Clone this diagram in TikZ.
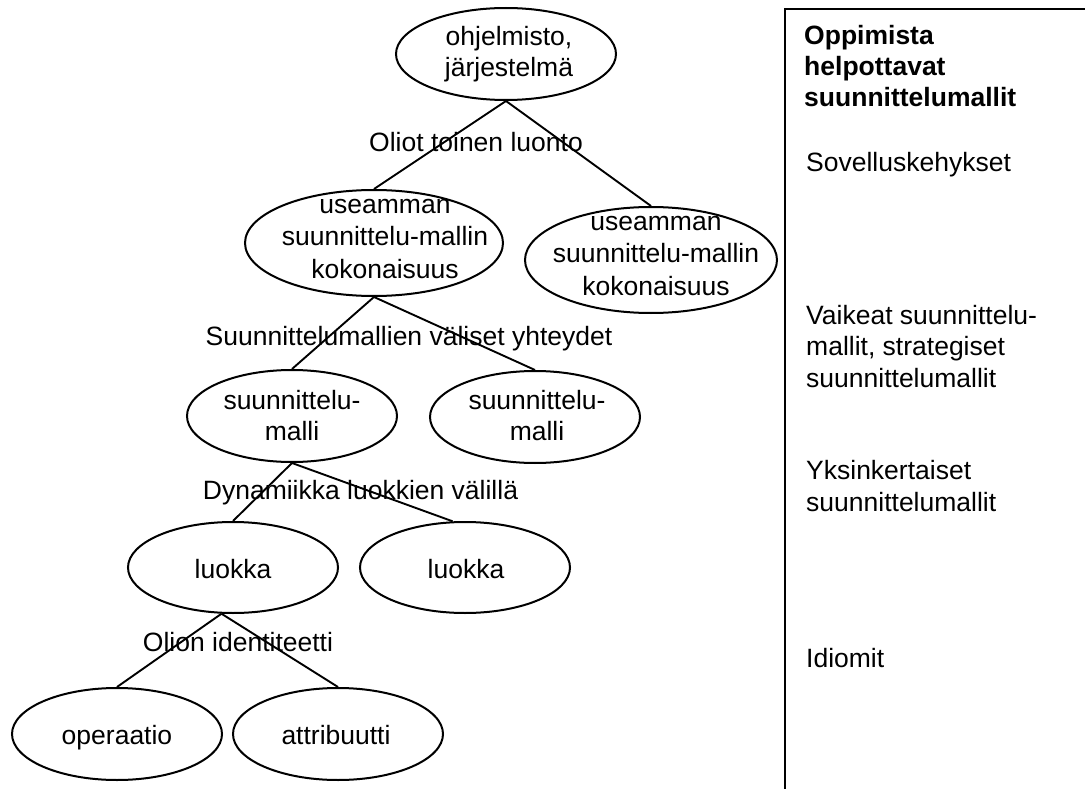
\documentclass[tikz,border=0pt]{standalone}
\usepackage{fontspec}
\setmainfont{Liberation Sans}
\usetikzlibrary{shapes.geometric}
\begin{document}
\begin{tikzpicture}[x=1pt,y=-1pt,
  oval/.style={draw, ellipse, line width=2pt, inner sep=0pt,
               minimum width=210pt, minimum height=92pt},
  bigoval/.style={oval, minimum width=256pt, minimum height=106pt},
  txt/.style={font=\fontsize{26.5}{31.5}\selectfont, inner sep=0pt,
              align=center, anchor=north, execute at begin node=\strut},
  side/.style={txt, align=left, anchor=north west},
  edgelabel/.style={font=\fontsize{26.5}{31.5}\selectfont, inner sep=0pt, anchor=base},
  link/.style={line width=1.9pt},
  frame/.style={line width=2pt}]
\useasboundingbox (0,0) rectangle (1085,789);

% ellipses of the hierarchy
\node[oval, minimum width=220pt] (sys) at (506,54) {};
\node[bigoval, minimum width=258pt] (kokA) at (374,243) {};
\node[bigoval, minimum width=252pt] (kokB) at (651,260) {};
\node[oval] (smA) at (292,416) {};
\node[oval] (smB) at (535,417) {};
\node[oval, minimum height=91pt] (lkA) at (233,567.5) {};
\node[oval, minimum height=91pt] (lkB) at (465,567.5) {};
\node[oval] (oper) at (117,734) {};
\node[oval] (attr) at (338,734) {};

% texts of the ellipses (top of the first line's strut)
\node[txt] (sysT)  at (509,26)  {ohjelmisto,\\järjestelmä};
\node[txt, font=\fontsize{26.5}{32.5}\selectfont] (kokAT) at (385,199) {useamman\\suunnittelu-mallin\\kokonaisuus};
\node[txt, font=\fontsize{26.5}{32.5}\selectfont] (kokBT) at (656,216) {useamman\\suunnittelu-mallin\\kokonaisuus};
\node[txt] (smAT)  at (292,390) {suunnittelu-\\malli};
\node[txt] (smBT)  at (537,390) {suunnittelu-\\malli};
\node[txt] (lkAT)  at (233,556) {luokka};
\node[txt] (lkBT)  at (466,556) {luokka};
\node[txt] (operT) at (117,722) {operaatio};
\node[txt] (attrT) at (336,722) {attribuutti};

% connectors
\draw[link] (sys.south) -- (kokA.north);
\draw[link] (sys.south) -- (kokB.north);
\draw[link] (kokA.south) -- (smA.north);
\draw[link] (kokA.south) -- (smB.north);
\draw[link] (smA.south) -- (lkA.north);
\draw[link] (smA.south) -- (lkB.105);
\draw[link] (lkA.256) -- (oper.north);
\draw[link] (lkA.256) -- (attr.north);

% level labels between the rows
\node[edgelabel] (l1) at (476,152) {Oliot toinen luonto};
\node[edgelabel] (l2) at (409,345) {Suunnittelumallien väliset yhteydet};
\node[edgelabel] (l3) at (360.5,499) {Dynamiikka luokkien välillä};
\node[edgelabel] (l4) at (238,651) {Olion identiteetti};

% side panel
\coordinate (pb) at (785,789);
\coordinate (pc) at (785,9);
\coordinate (pr) at (1085,9);
\draw[frame] (pb) -- (pc) -- (pr);
\node[side, font=\fontsize{26.5}{31}\selectfont\bfseries] (p0) at (804,25) {Oppimista\\helpottavat\\suunnittelumallit};
\node[side] (p1) at (806,149) {Sovelluskehykset};
\node[side] (p2) at (806,305) {Vaikeat suunnittelu-\\mallit, strategiset\\suunnittelumallit};
\node[side, font=\fontsize{26.5}{32}\selectfont] (p3) at (806,460) {Yksinkertaiset\\suunnittelumallit};
\node[side] (p4) at (806,645) {Idiomit};
\end{tikzpicture}
\end{document}
